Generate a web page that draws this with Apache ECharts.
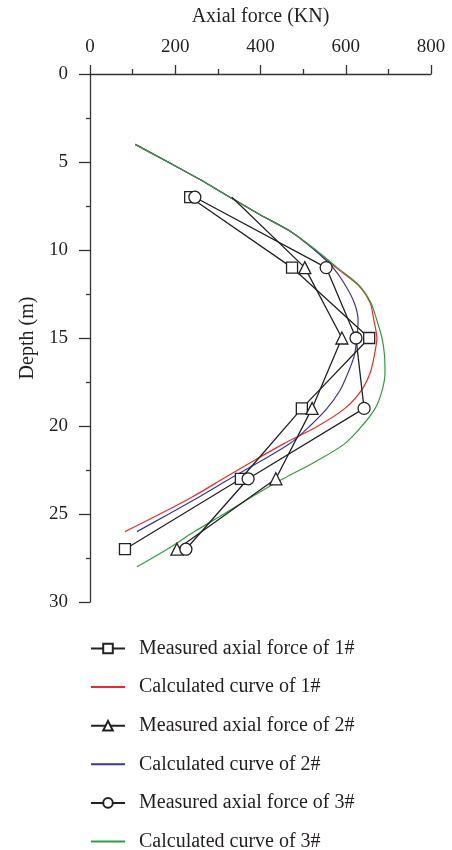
<!DOCTYPE html>
<html>
<head>
<meta charset="utf-8">
<script src="https://cdn.jsdelivr.net/npm/echarts@6/dist/echarts.min.js"></script>
<style>
  html, body { margin: 0; padding: 0; background: #fff; }
  #main { width: 452px; height: 850px; }
</style>
</head>
<body>
<div id="main"></div>
<script>
// 实测点深度 (m)
const measuredDepth = [7, 11, 15, 19, 23, 27]
const measured1 = [235, 474, 655, 497, 354, 82]
const measured2 = [333, 504, 591, 521, 436, 204]
const measured3 = [246, 554, 624, 643, 371, 225]

// 计算曲线
const calcDepth1 = [4, 5, 6, 7, 8, 9, 10, 11, 12, 13, 14, 15, 16, 17, 18, 19, 20, 21, 22, 23, 24, 25, 26]
const calc1 = [106, 183, 258, 328, 399, 474, 527, 577, 629, 657, 666, 673, 667, 657, 636, 598, 535, 455, 382, 312, 242, 164, 82]
const calcDepth2 = [4, 5, 6, 7, 8, 9, 10, 11, 12, 13, 14, 15, 16, 17, 18, 19, 20, 21, 22, 23, 24, 25, 26]
const calc2 = [106, 183, 258, 328, 399, 474, 527, 570, 599, 620, 629, 626, 620, 605, 586, 556, 516, 469, 400, 328, 258, 185, 110]
const calcDepth3 = [4, 5, 6, 7, 8, 9, 10, 11, 12, 13, 14, 15, 16, 17, 18, 19, 20, 21, 22, 23, 24, 25, 26, 27, 28]
const calc3 = [106, 183, 258, 328, 399, 474, 530, 580, 631, 659, 673, 685, 691, 692, 685, 669, 638, 598, 531, 453, 381, 314, 245, 181, 110]

const xTicks = [0, 200, 400, 600, 800]
const yTicks = [0, 5, 10, 15, 20, 25, 30]

const names = [
  'Measured axial force of 1#',
  'Calculated curve of 1#',
  'Measured axial force of 2#',
  'Calculated curve of 2#',
  'Measured axial force of 3#',
  'Calculated curve of 3#'
]

const font = "'Liberation Serif', 'DejaVu Serif', serif"
const ink = '#231f20'

function pairs(xs, ys) {
  return xs.map((v, i) => [v, ys[i]])
}

function measuredSeries(name, values, symbol, size) {
  return {
    name: name,
    type: 'line',
    data: pairs(values, measuredDepth),
    symbol: symbol,
    symbolSize: size,
    showAllSymbol: true,
    z: 5,
    lineStyle: { color: '#222', width: 1.3 },
    itemStyle: { color: '#fff', borderColor: '#222', borderWidth: 1.3 }
  }
}

function calcSeries(name, values, depth, color) {
  return {
    name: name,
    type: 'line',
    data: pairs(values, depth),
    symbol: 'none',
    smooth: 0.3,
    z: 3,
    lineStyle: { color: color, width: 1.2 },
    itemStyle: { color: color }
  }
}

const chart = echarts.init(document.getElementById('main'))

const s2 = measuredSeries(names[2], measured2, 'triangle', 12)
// 2# 的 7 m 点被曲线遮住，不画符号
s2.data[0] = { value: s2.data[0], symbol: 'none' }

// 图例：计算曲线只画线
const legendData = names.map((n, i) => (i % 2 === 1 ? { name: n, itemStyle: { opacity: 0 } } : { name: n }))

const option = {
  animation: false,
  backgroundColor: '#fff',
  textStyle: { fontFamily: font, color: ink },
  grid: { left: 90, right: 21, top: 74, height: 528, containLabel: false },
  xAxis: {
    type: 'value',
    position: 'top',
    min: 0,
    max: 800,
    interval: 200,
    name: 'Axial force (KN)',
    nameLocation: 'middle',
    nameGap: 47,
    nameTextStyle: { fontFamily: font, fontSize: 20, color: ink },
    axisLine: { show: true, lineStyle: { color: '#333', width: 1.3 } },
    axisTick: { show: true, length: 9, lineStyle: { color: '#333', width: 1.3 } },
    minorTick: { show: true, splitNumber: 2, length: 5, lineStyle: { color: '#333', width: 1.3 } },
    axisLabel: {
      fontFamily: font, fontSize: 19, color: ink, margin: 17,
      formatter: v => (xTicks.indexOf(v) >= 0 ? String(v) : '')
    },
    splitLine: { show: false }
  },
  yAxis: {
    type: 'value',
    inverse: true,
    min: 0,
    max: 30,
    interval: 5,
    name: 'Depth (m)',
    nameLocation: 'middle',
    nameGap: 52,
    nameTextStyle: { fontFamily: font, fontSize: 20, color: ink },
    axisLine: { show: true, lineStyle: { color: '#333', width: 1.3 } },
    axisTick: { show: true, length: 11, lineStyle: { color: '#333', width: 1.3 } },
    minorTick: { show: true, splitNumber: 2, length: 4, lineStyle: { color: '#333', width: 1.3 } },
    axisLabel: {
      fontFamily: font, fontSize: 19, color: ink, margin: 22,
      formatter: v => (yTicks.indexOf(v) >= 0 ? String(v) : '')
    },
    splitLine: { show: false }
  },
  legend: {
    orient: 'vertical',
    left: 90,
    top: 638.5,
    height: 240,
    padding: 0,
    itemWidth: 34,
    itemHeight: 12,
    itemGap: 18.6,
    data: legendData,
    textStyle: { fontFamily: font, fontSize: 20, lineHeight: 20, color: ink, padding: [0, 0, 0, 9] }
  },
  series: [
    measuredSeries(names[0], measured1, 'rect', 11),
    calcSeries(names[1], calc1, calcDepth1, '#ee2a24'),
    s2,
    calcSeries(names[3], calc2, calcDepth2, '#3b3796'),
    measuredSeries(names[4], measured3, 'circle', 12),
    calcSeries(names[5], calc3, calcDepth3, '#2e9e3e')
  ]
}

chart.setOption(option, true)
</script>
</body>
</html>
